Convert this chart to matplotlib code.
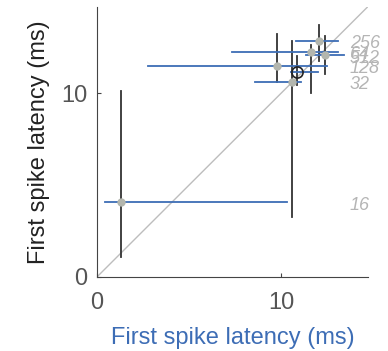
import matplotlib
matplotlib.use("Agg")
import matplotlib.pyplot as plt
import numpy as np

plt.rcParams['font.family'] = ['Liberation Sans', 'DejaVu Sans']

labels = ['16', '32', '128', '64', '512', '256']
x_med = [1.28, 10.59, 9.76, 11.62, 12.40, 12.04]
y_med = [4.05, 10.60, 11.50, 12.23, 12.05, 12.85]
x_lo = [0.43, 8.55, 2.78, 7.33, 11.35, 10.81]
x_hi = [10.33, 11.08, 12.47, 13.06, 13.43, 13.06]
y_lo = [1.10, 3.28, 10.60, 10.03, 11.03, 11.72]
y_hi = [10.09, 12.81, 13.23, 12.63, 13.12, 13.72]

mean_x = 10.83
mean_y = 11.12
mean_x_lo, mean_x_hi = 10.54, 12.00
mean_y_lo, mean_y_hi = 10.45, 12.03

blue = '#3d6db5'
dark = '#333333'
ptc = '#b3b6ae'
labc = '#b5b5b5'

fig = plt.figure(figsize=(3.88, 3.51), dpi=100)
ax = fig.add_axes([0.25, 0.211, 0.698, 0.770])
lim = 14.7
ax.plot([0, lim], [0, lim], color='#bdbdbd', lw=1, zorder=1)

for i in range(len(labels)):
    ax.plot([x_med[i], x_med[i]], [y_lo[i], y_hi[i]], color=dark, lw=1.3, zorder=2)
    ax.plot([x_lo[i], x_hi[i]], [y_med[i], y_med[i]], color=blue, lw=1.3, zorder=3)
    ax.plot(x_med[i], y_med[i], 'o', color=ptc, ms=6, mec='none', zorder=4)
    ax.annotate(labels[i], (13.72, y_med[i]), xytext=(0, -2), textcoords='offset points',
                color=labc, fontsize=13, style='italic',
                va='center', ha='left', annotation_clip=False)

ax.plot([mean_x, mean_x], [mean_y_lo, mean_y_hi], color=dark, lw=1.3, zorder=2)
ax.plot([mean_x_lo, mean_x_hi], [mean_y, mean_y], color=blue, lw=1.3, zorder=3)
ax.plot(mean_x, mean_y, 'o', mfc='none', mec='#222222', ms=8, mew=1.2, zorder=5)

ax.set_xlim(0, lim)
ax.set_ylim(0, lim)
ax.set_xticks([0, 10])
ax.set_yticks([0, 10])
ax.spines['top'].set_visible(False)
ax.spines['right'].set_visible(False)
for s in ['left', 'bottom']:
    ax.spines[s].set_color('#444444')
ax.tick_params(direction='in', length=3, colors='#444444', labelsize=17, labelcolor='#555555')
ax.tick_params(axis='x', pad=11)
ax.tick_params(axis='y', pad=7)
ax.set_xlabel('First spike latency (ms)', color=blue, fontsize=17, labelpad=9)
ax.set_ylabel('First spike latency (ms)', color='#222222', fontsize=17, labelpad=8)

fig.savefig('out.png', dpi=100)
